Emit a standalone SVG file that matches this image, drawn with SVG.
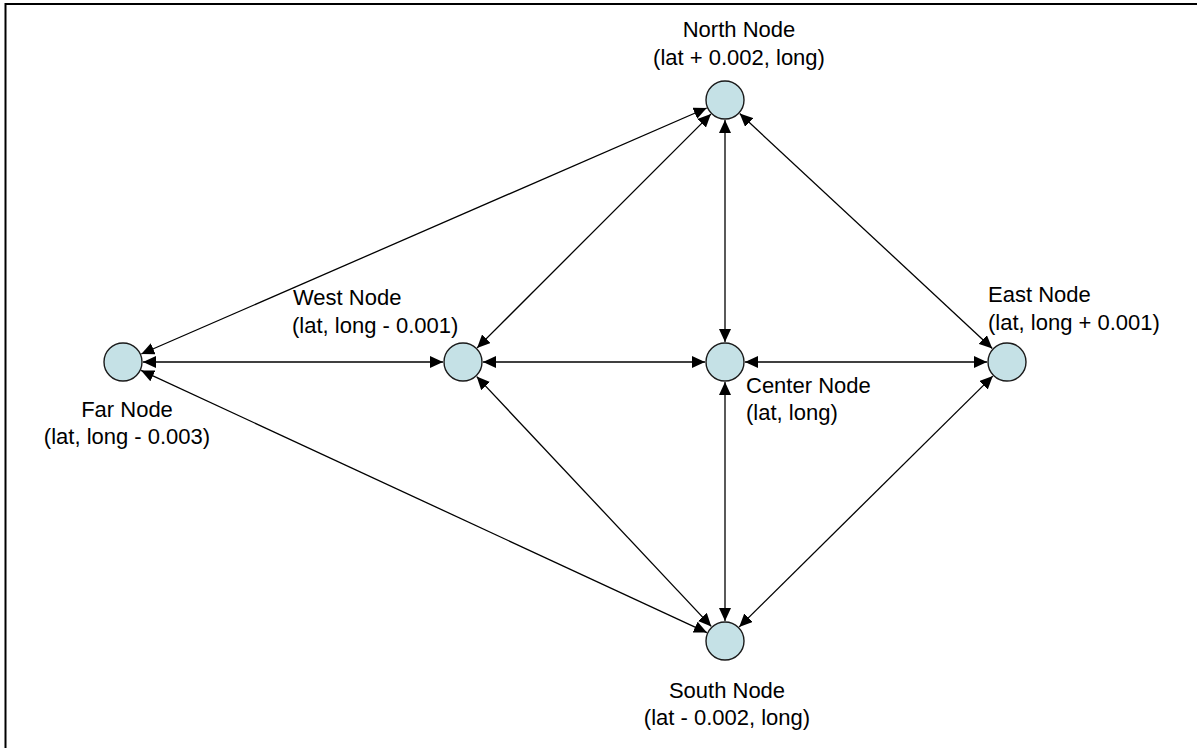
<svg xmlns="http://www.w3.org/2000/svg" width="1197" height="748" viewBox="0 0 1197 748">
  <defs>
    <marker id="arrow" viewBox="0 0 13 12" refX="13" refY="6" markerWidth="13" markerHeight="12" markerUnits="userSpaceOnUse" orient="auto-start-reverse">
      <path d="M0,0 L13,6 L0,12 z" fill="#000"/>
    </marker>
  </defs>
  <style>
    .frame { fill: none; stroke: #000; stroke-width: 2; }
    .edge { fill: none; stroke: #000; stroke-width: 1.3; marker-start: url(#arrow); marker-end: url(#arrow); }
    .node circle { fill: #c5e1e6; stroke: #1a1a1a; stroke-width: 1.4; }
    .label { font-family: "Liberation Sans", Arial, sans-serif; font-size: 22px; fill: #000; }
    .mid { text-anchor: middle; }
  </style>

  <rect width="1197" height="748" fill="#fff"/>
  <path class="frame" d="M5.5,748 V4 H1197"/>

  <!-- connectors -->
  <g id="connectors">
    <line class="edge" x1="706.7" y1="108" x2="141.3" y2="354"/>
    <line class="edge" x1="710.9" y1="114.1" x2="477.1" y2="347.9"/>
    <line class="edge" x1="725" y1="120" x2="725" y2="342"/>
    <line class="edge" x1="739.7" y1="113.6" x2="992.3" y2="348.4"/>
    <line class="edge" x1="143" y1="362" x2="443" y2="362"/>
    <line class="edge" x1="483" y1="362" x2="705" y2="362"/>
    <line class="edge" x1="745" y1="362" x2="987" y2="362"/>
    <line class="edge" x1="141.1" y1="370.4" x2="706.9" y2="632.6"/>
    <line class="edge" x1="476.7" y1="376.6" x2="711.3" y2="626.4"/>
    <line class="edge" x1="725" y1="382" x2="725" y2="621"/>
    <line class="edge" x1="992.8" y1="376.1" x2="739.2" y2="626.9"/>
  </g>

  <!-- nodes -->
  <g id="north" class="node">
    <circle cx="725" cy="100" r="19"/>
    <text class="label mid" x="739" y="37">North Node</text>
    <text class="label mid" x="739" y="65">(lat + 0.002, long)</text>
  </g>
  <g id="west" class="node">
    <circle cx="463" cy="362" r="19"/>
    <text class="label" x="293" y="305">West Node</text>
    <text class="label" x="292" y="333">(lat, long - 0.001)</text>
  </g>
  <g id="center" class="node">
    <circle cx="725" cy="362" r="19"/>
    <text class="label" x="746" y="393">Center Node</text>
    <text class="label" x="746" y="420">(lat, long)</text>
  </g>
  <g id="east" class="node">
    <circle cx="1007" cy="362" r="19"/>
    <text class="label" x="988" y="302">East Node</text>
    <text class="label" x="988" y="330">(lat, long + 0.001)</text>
  </g>
  <g id="far" class="node">
    <circle cx="123" cy="362" r="19"/>
    <text class="label mid" x="127" y="417">Far Node</text>
    <text class="label mid" x="127" y="444">(lat, long - 0.003)</text>
  </g>
  <g id="south" class="node">
    <circle cx="725" cy="641" r="19"/>
    <text class="label mid" x="727" y="698">South Node</text>
    <text class="label mid" x="727" y="725">(lat - 0.002, long)</text>
  </g>
</svg>
